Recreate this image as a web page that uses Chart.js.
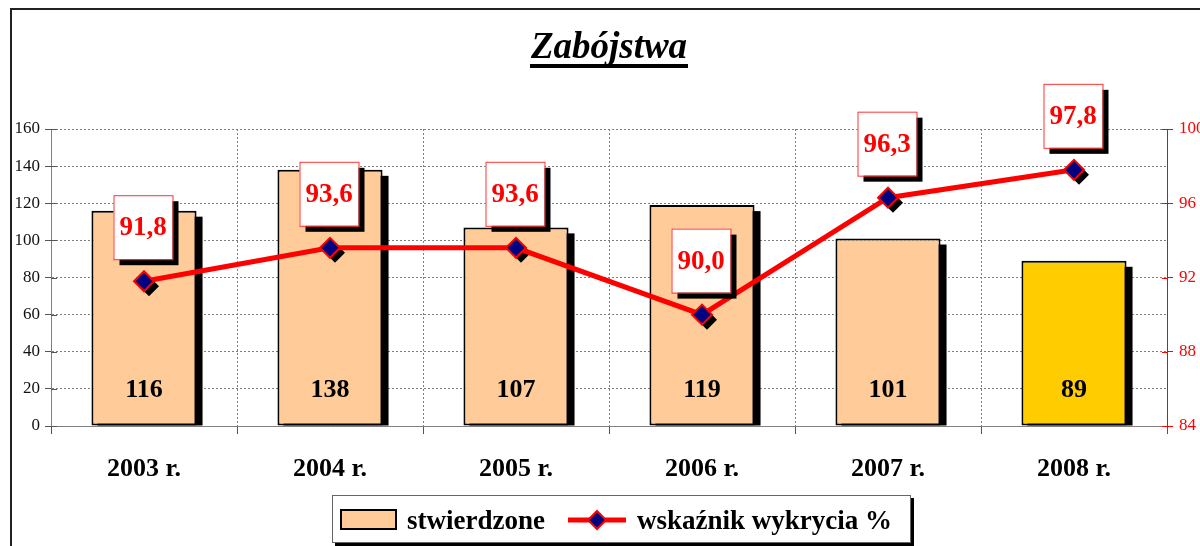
<!DOCTYPE html>
<html>
<head>
<meta charset="utf-8">
<script src="https://cdn.jsdelivr.net/npm/chart.js@4.4.0/dist/chart.umd.min.js"></script>
<style>
  html, body { margin: 0; padding: 0; background: #fff; }
  #wrap { width: 1200px; height: 546px; position: relative; }
</style>
</head>
<body>
<div id="wrap"><canvas id="chart" width="1200" height="546"></canvas></div>
<script>
// dane
const years = ['2003 r.', '2004 r.', '2005 r.', '2006 r.', '2007 r.', '2008 r.'];
const stwierdzone = [116, 138, 107, 119, 101, 89];
const wskaznik = [91.8, 93.6, 93.6, 90.0, 96.3, 97.8];
const barColors = ['#FFCC99', '#FFCC99', '#FFCC99', '#FFCC99', '#FFCC99', '#FFCC00'];

const FONT = '"Liberation Serif", "Times New Roman", serif';

function diamond(ctx, x, y, r) {
    ctx.beginPath();
    ctx.moveTo(x, y - r);
    ctx.lineTo(x + r, y);
    ctx.lineTo(x, y + r);
    ctx.lineTo(x - r, y);
    ctx.closePath();
}

// cienie, etykiety, tytuł, legenda
const extras = {
    id: 'extras',
    beforeDraw(chart) {
        const ctx = chart.ctx;
        ctx.save();
        ctx.fillStyle = '#fff';
        ctx.fillRect(0, 0, chart.width, chart.height);
        // ramka
        ctx.strokeStyle = '#222';
        ctx.lineWidth = 2;
        ctx.beginPath();
        ctx.moveTo(11, 546);
        ctx.lineTo(11, 9);
        ctx.lineTo(1200, 9);
        ctx.stroke();
        ctx.restore();
    },
    beforeDatasetDraw(chart, args) {
        const ctx = chart.ctx;
        const meta = args.meta;
        ctx.save();
        ctx.fillStyle = '#000';
        if (meta.type === 'bar') {
            meta.data.forEach(el => {
                const left = el.x - el.width / 2;
                ctx.fillRect(left + 6, el.y + 6, el.width, el.base - el.y - 6);
            });
        } else {
            meta.data.forEach(el => {
                diamond(ctx, el.x + 5, el.y + 5, 10);
                ctx.fill();
            });
        }
        ctx.restore();
    },
    afterDatasetsDraw(chart) {
        const ctx = chart.ctx;
        const area = chart.chartArea;
        ctx.save();
        // kreski osi po stronie wykresu
        const yS = chart.scales.y, y1S = chart.scales.y1;
        ctx.lineWidth = 1;
        ctx.strokeStyle = '#555';
        yS.ticks.forEach(t => {
            const py = Math.round(yS.getPixelForValue(t.value)) + 0.5;
            ctx.beginPath();
            ctx.moveTo(area.left, py);
            ctx.lineTo(area.left + 6, py);
            ctx.stroke();
        });
        ctx.strokeStyle = '#FF0000';
        y1S.ticks.forEach(t => {
            const py = Math.round(y1S.getPixelForValue(t.value)) + 0.5;
            ctx.beginPath();
            ctx.moveTo(area.right - 5, py);
            ctx.lineTo(area.right, py);
            ctx.stroke();
        });

        // wartości słupków
        ctx.font = 'bold 26px ' + FONT;
        ctx.fillStyle = '#000';
        ctx.textAlign = 'center';
        ctx.textBaseline = 'middle';
        chart.getDatasetMeta(0).data.forEach((el, i) => {
            ctx.fillText(String(stwierdzone[i]), el.x, area.bottom - 36);
        });
        // etykiety wskaźnika
        chart.getDatasetMeta(1).data.forEach((el, i) => {
            const w = 59, h = 64;
            const bx = el.x - w / 2 - 1, by = el.y - 22 - h;
            ctx.fillStyle = '#000';
            ctx.fillRect(bx + 6, by + 6, w, h);
            ctx.fillStyle = '#fff';
            ctx.fillRect(bx, by, w, h);
            ctx.strokeStyle = '#FF3333';
            ctx.lineWidth = 1;
            ctx.strokeRect(bx + 0.5, by + 0.5, w, h);
            ctx.fillStyle = '#FF0000';
            ctx.font = 'bold 27px ' + FONT;
            ctx.fillText(wskaznik[i].toFixed(1).replace('.', ','), bx + w / 2, by + h / 2 + 1);
        });
        ctx.restore();
    },
    afterDraw(chart) {
        const ctx = chart.ctx;
        ctx.save();
        // tytuł
        ctx.font = 'italic bold 37px ' + FONT;
        ctx.fillStyle = '#000';
        ctx.textAlign = 'center';
        ctx.textBaseline = 'alphabetic';
        ctx.fillText('Zabójstwa', 609, 58);
        ctx.fillRect(530, 64, 158, 4);

        // legenda
        ctx.fillStyle = '#000';
        ctx.fillRect(335, 498, 579, 48);
        ctx.fillStyle = '#fff';
        ctx.fillRect(332, 495, 579, 48);
        ctx.strokeStyle = '#666';
        ctx.lineWidth = 1;
        ctx.strokeRect(332.5, 495.5, 578, 47);

        ctx.fillStyle = barColors[0];
        ctx.fillRect(341, 510, 55, 19);
        ctx.strokeStyle = '#000';
        ctx.lineWidth = 2;
        ctx.strokeRect(341, 510, 55, 19);

        ctx.font = 'bold 27px ' + FONT;
        ctx.fillStyle = '#000';
        ctx.textAlign = 'left';
        ctx.textBaseline = 'alphabetic';
        ctx.fillText('stwierdzone', 407, 529);

        ctx.strokeStyle = '#FF0000';
        ctx.lineWidth = 5;
        ctx.beginPath();
        ctx.moveTo(568, 520);
        ctx.lineTo(626, 520);
        ctx.stroke();
        diamond(ctx, 597, 520, 9);
        ctx.fillStyle = '#000080';
        ctx.fill();
        ctx.strokeStyle = '#FF0000';
        ctx.lineWidth = 2;
        ctx.stroke();

        ctx.fillStyle = '#000';
        ctx.fillText('wskaźnik wykrycia %', 637, 529);
        ctx.restore();
    }
};

const ctx = document.getElementById('chart').getContext('2d');

new Chart(ctx, {
    data: {
        labels: years,
        datasets: [{
            type: 'bar',
            label: 'stwierdzone',
            data: stwierdzone,
            backgroundColor: barColors,
            borderColor: '#000',
            borderWidth: 2,
            borderSkipped: false,
            barPercentage: 0.565,
            categoryPercentage: 1,
            yAxisID: 'y',
            order: 2
        }, {
            type: 'line',
            label: 'wskaźnik wykrycia %',
            data: wskaznik,
            borderColor: '#FF0000',
            borderWidth: 5,
            pointStyle: 'rectRot',
            pointRadius: 10,
            pointBackgroundColor: '#000080',
            pointBorderColor: '#FF0000',
            pointBorderWidth: 2,
            tension: 0,
            yAxisID: 'y1',
            order: 1
        }]
    },
    options: {
        responsive: false,
        animation: false,
        layout: { padding: { top: 129, left: 0, right: 0, bottom: 0 } },
        plugins: {
            legend: { display: false },
            title: { display: false },
            tooltip: { enabled: false }
        },
        scales: {
            x: {
                offset: true,
                grid: {
                    offset: true,
                    color: '#808080',
                    lineWidth: 1,
                    tickLength: 8,
                    tickColor: '#555'
                },
                border: { color: '#808080', width: 1, dash: [2, 2] },
                ticks: {
                    color: '#000',
                    font: { family: FONT, size: 26, weight: 'bold' },
                    padding: 20
                },
                afterFit(s) { s.height = 120; }
            },
            y: {
                position: 'left',
                min: 0,
                max: 160,
                ticks: {
                    stepSize: 20,
                    color: '#111',
                    font: { family: FONT, size: 17 },
                    padding: 5
                },
                grid: {
                    color: '#808080',
                    tickLength: 6,
                    tickColor: '#555'
                },
                border: { color: '#808080', width: 1, dash: [2, 2] },
                afterFit(s) { s.width = 51; }
            },
            y1: {
                position: 'right',
                min: 84,
                max: 100,
                ticks: {
                    stepSize: 4,
                    color: '#FF0000',
                    font: { family: FONT, size: 17 },
                    padding: 6
                },
                grid: {
                    drawOnChartArea: false,
                    color: '#FF0000',
                    tickLength: 6
                },
                border: { color: '#FF0000', width: 1 },
                afterFit(s) { s.width = 33; }
            }
        }
    },
    plugins: [extras]
});
</script>
</body>
</html>
